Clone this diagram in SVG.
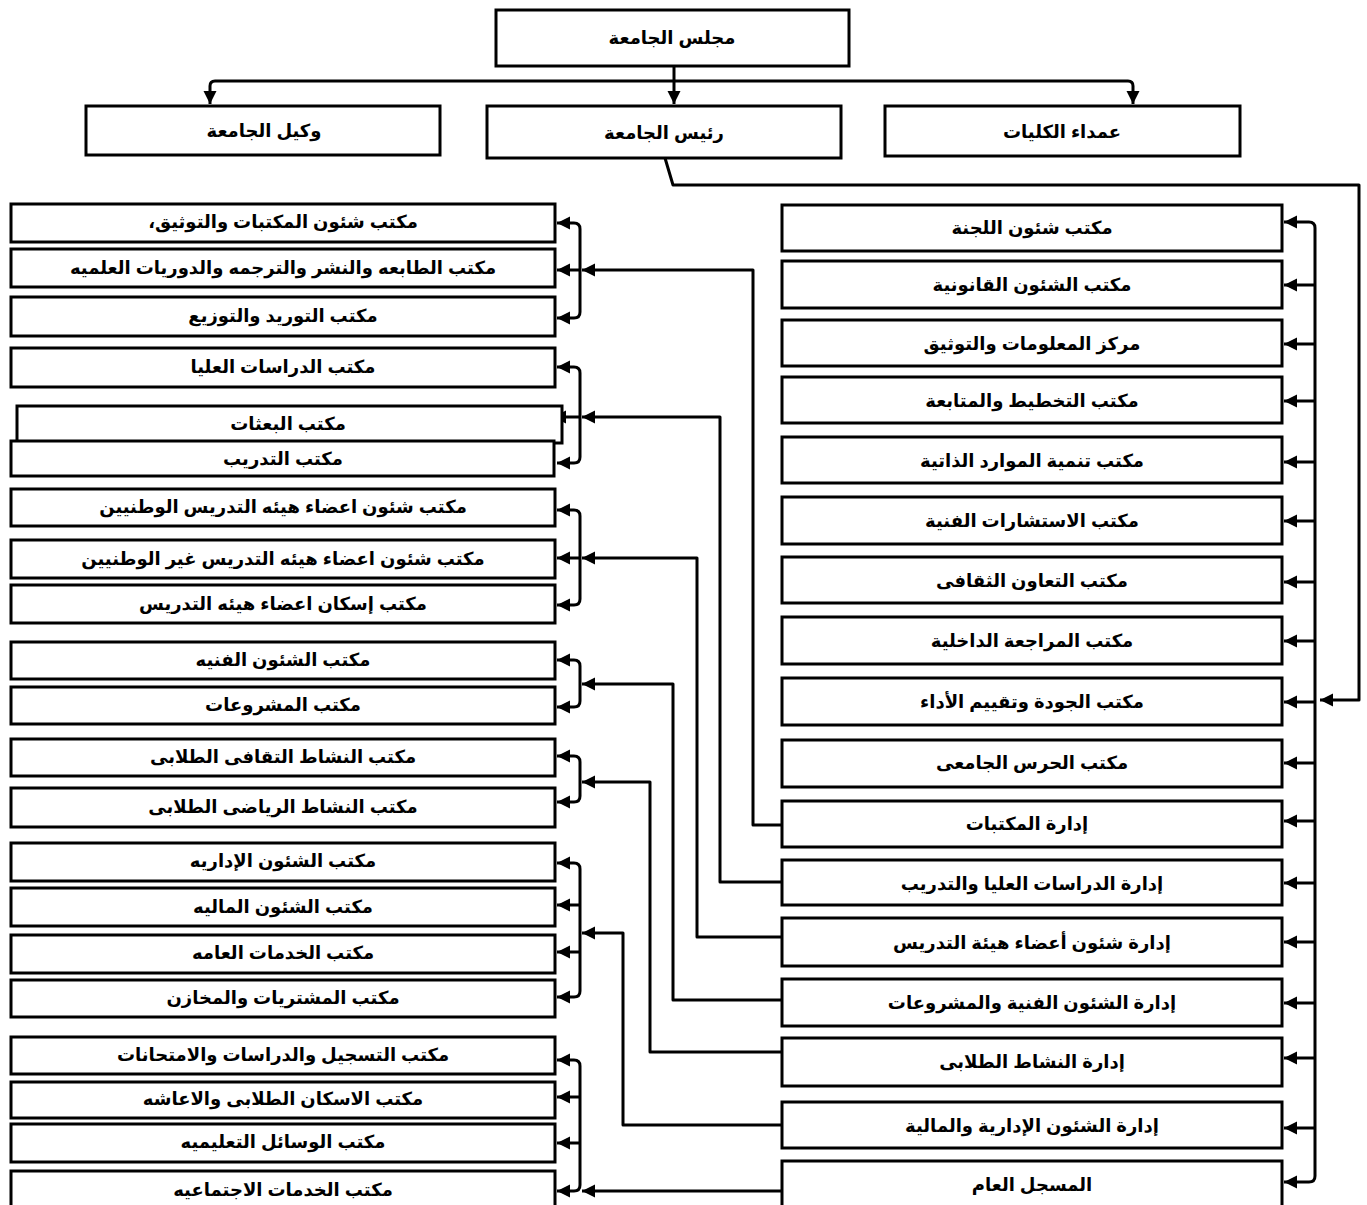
<svg xmlns="http://www.w3.org/2000/svg" width="1367" height="1205" viewBox="0 0 1367 1205">
<style>
.box{fill:#fff;stroke:#000;stroke-width:3}
.t{font-family:"Liberation Sans","DejaVu Sans",sans-serif;font-weight:bold;font-size:18px;text-anchor:middle;fill:#000}
.c{fill:none;stroke:#000;stroke-width:3;stroke-linejoin:round}
</style>
<defs>
<marker id="ah" markerUnits="userSpaceOnUse" markerWidth="14" markerHeight="14" refX="13" refY="6.5" orient="auto-start-reverse"><path d="M0,0 L13,6.5 L0,13 z" fill="#000"/></marker>
</defs>
<rect width="1367" height="1205" fill="#fff"/>

<g id="connectors">
<path class="c" d="M674,66 L674,104" marker-end="url(#ah)"/>
<path class="c" d="M210,104 L210,86 Q210,81 215,81 L1128,81 Q1133,81 1133,86 L1133,104" marker-start="url(#ah)" marker-end="url(#ah)"/>
<path class="c" d="M665,158 L673,185 L1359,185 L1359,700 L1320,700" marker-end="url(#ah)"/>
<path class="c" d="M1284,222 L1309,222 Q1315,222 1315,228 L1315,1176 Q1315,1182 1309,1182 L1284,1182" marker-start="url(#ah)" marker-end="url(#ah)"/>
<path class="c" d="M1315,285 L1284,285" marker-end="url(#ah)"/>
<path class="c" d="M1315,344 L1284,344" marker-end="url(#ah)"/>
<path class="c" d="M1315,401 L1284,401" marker-end="url(#ah)"/>
<path class="c" d="M1315,462 L1284,462" marker-end="url(#ah)"/>
<path class="c" d="M1315,521 L1284,521" marker-end="url(#ah)"/>
<path class="c" d="M1315,582 L1284,582" marker-end="url(#ah)"/>
<path class="c" d="M1315,641 L1284,641" marker-end="url(#ah)"/>
<path class="c" d="M1315,702 L1284,702" marker-end="url(#ah)"/>
<path class="c" d="M1315,763 L1284,763" marker-end="url(#ah)"/>
<path class="c" d="M1315,821 L1284,821" marker-end="url(#ah)"/>
<path class="c" d="M1315,883 L1284,883" marker-end="url(#ah)"/>
<path class="c" d="M1315,942 L1284,942" marker-end="url(#ah)"/>
<path class="c" d="M1315,1003 L1284,1003" marker-end="url(#ah)"/>
<path class="c" d="M1315,1058 L1284,1058" marker-end="url(#ah)"/>
<path class="c" d="M1315,1128 L1284,1128" marker-end="url(#ah)"/>
<!-- group A -->
<path class="c" d="M557,223 L574,223 Q580,223 580,229 L580,312 Q580,318 574,318 L557,318" marker-start="url(#ah)" marker-end="url(#ah)"/>
<path class="c" d="M580,270 L557,270" marker-end="url(#ah)"/>
<path class="c" d="M782,825 L753,825 L753,270 L582,270" marker-end="url(#ah)"/>
<!-- group B -->
<path class="c" d="M557,367 L574,367 Q580,367 580,373 L580,457 Q580,463 574,463 L557,463" marker-start="url(#ah)" marker-end="url(#ah)"/>
<path class="c" d="M580,417 L553,417" marker-end="url(#ah)"/>
<path class="c" d="M782,882 L720,882 L720,417 L582,417" marker-end="url(#ah)"/>
<!-- group C -->
<path class="c" d="M557,510 L574,510 Q580,510 580,516 L580,599 Q580,605 574,605 L557,605" marker-start="url(#ah)" marker-end="url(#ah)"/>
<path class="c" d="M580,558 L557,558" marker-end="url(#ah)"/>
<path class="c" d="M782,937 L697,937 L697,558 L582,558" marker-end="url(#ah)"/>
<!-- group D -->
<path class="c" d="M557,660 L574,660 Q580,660 580,666 L580,701 Q580,707 574,707 L557,707" marker-start="url(#ah)" marker-end="url(#ah)"/>
<path class="c" d="M782,1000 L673,1000 L673,684 L582,684" marker-end="url(#ah)"/>
<!-- group E -->
<path class="c" d="M557,756 L574,756 Q580,756 580,762 L580,796 Q580,802 574,802 L557,802" marker-start="url(#ah)" marker-end="url(#ah)"/>
<path class="c" d="M782,1052 L650,1052 L650,782 L582,782" marker-end="url(#ah)"/>
<!-- group F -->
<path class="c" d="M557,863 L574,863 Q580,863 580,869 L580,991 Q580,997 574,997 L557,997" marker-start="url(#ah)" marker-end="url(#ah)"/>
<path class="c" d="M580,905 L557,905" marker-end="url(#ah)"/>
<path class="c" d="M580,952 L557,952" marker-end="url(#ah)"/>
<path class="c" d="M782,1125 L623,1125 L623,933 L582,933" marker-end="url(#ah)"/>
<!-- group G -->
<path class="c" d="M557,1060 L574,1060 Q580,1060 580,1066 L580,1185 Q580,1191 574,1191 L557,1191" marker-start="url(#ah)" marker-end="url(#ah)"/>
<path class="c" d="M580,1097 L557,1097" marker-end="url(#ah)"/>
<path class="c" d="M580,1143 L557,1143" marker-end="url(#ah)"/>
<path class="c" d="M782,1191 L582,1191" marker-end="url(#ah)"/>
</g>

<g id="n-majlis"><rect class="box" x="496" y="10" width="353" height="56"/><text class="t" x="672" y="44">مجلس الجامعة</text></g>
<g id="n-wakeel"><rect class="box" x="86" y="106" width="354" height="49"/><text class="t" x="264" y="137">وكيل الجامعة</text></g>
<g id="n-raees"><rect class="box" x="487" y="106" width="354" height="52"/><text class="t" x="664" y="139">رئيس الجامعة</text></g>
<g id="n-omada"><rect class="box" x="885" y="106" width="355" height="50"/><text class="t" x="1062" y="138">عمداء الكليات</text></g>

<g id="r1"><rect class="box" x="782" y="205" width="500" height="46"/><text class="t" x="1032" y="234">مكتب شئون اللجنة</text></g>
<g id="r2"><rect class="box" x="782" y="261" width="500" height="47"/><text class="t" x="1032" y="291">مكتب الشئون القانونية</text></g>
<g id="r3"><rect class="box" x="782" y="320" width="500" height="46"/><text class="t" x="1032" y="350">مركز المعلومات والتوثيق</text></g>
<g id="r4"><rect class="box" x="782" y="377" width="500" height="46"/><text class="t" x="1032" y="407">مكتب التخطيط والمتابعة</text></g>
<g id="r5"><rect class="box" x="782" y="437" width="500" height="46"/><text class="t" x="1032" y="467">مكتب تنمية الموارد الذاتية</text></g>
<g id="r6"><rect class="box" x="782" y="497" width="500" height="47"/><text class="t" x="1032" y="527">مكتب الاستشارات الفنية</text></g>
<g id="r7"><rect class="box" x="782" y="557" width="500" height="46"/><text class="t" x="1032" y="587">مكتب التعاون الثقافى</text></g>
<g id="r8"><rect class="box" x="782" y="617" width="500" height="47"/><text class="t" x="1032" y="647">مكتب المراجعة الداخلية</text></g>
<g id="r9"><rect class="box" x="782" y="678" width="500" height="47"/><text class="t" x="1032" y="708">مكتب الجودة وتقييم الأداء</text></g>
<g id="r10"><rect class="box" x="782" y="740" width="500" height="47"/><text class="t" x="1032" y="769">مكتب الحرس الجامعى</text></g>
<g id="r11"><rect class="box" x="782" y="801" width="500" height="46"/><text class="t" x="1027" y="830">إدارة المكتبات</text></g>
<g id="r12"><rect class="box" x="782" y="860" width="500" height="45"/><text class="t" x="1032" y="890">إدارة الدراسات العليا والتدريب</text></g>
<g id="r13"><rect class="box" x="782" y="918" width="500" height="48"/><text class="t" x="1032" y="949">إدارة شئون أعضاء هيئة التدريس</text></g>
<g id="r14"><rect class="box" x="782" y="979" width="500" height="47"/><text class="t" x="1032" y="1009">إدارة الشئون الفنية والمشروعات</text></g>
<g id="r15"><rect class="box" x="782" y="1038" width="500" height="48"/><text class="t" x="1032" y="1068">إدارة النشاط الطلابى</text></g>
<g id="r16"><rect class="box" x="782" y="1102" width="500" height="46"/><text class="t" x="1032" y="1132">إدارة الشئون الإدارية والمالية</text></g>
<g id="r17"><rect class="box" x="782" y="1161" width="500" height="48"/><text class="t" x="1032" y="1191">المسجل العام</text></g>

<g id="l1"><rect class="box" x="11" y="204" width="544" height="38"/><text class="t" x="283" y="228" direction="rtl">مكتب شئون المكتبات والتوثيق،</text></g>
<g id="l2"><rect class="box" x="11" y="249" width="544" height="38"/><text class="t" x="283" y="274">مكتب الطابعه والنشر والترجمه والدوريات العلميه</text></g>
<g id="l3"><rect class="box" x="11" y="297" width="544" height="39"/><text class="t" x="283" y="322">مكتب التوريد والتوزيع</text></g>
<g id="l4"><rect class="box" x="11" y="348" width="544" height="39"/><text class="t" x="283" y="373">مكتب الدراسات العليا</text></g>
<g id="l5"><rect class="box" x="17" y="406" width="545" height="37"/><text class="t" x="288" y="430">مكتب البعثات</text></g>
<g id="l6"><rect class="box" x="11" y="441" width="543" height="35"/><text class="t" x="283" y="465">مكتب التدريب</text></g>
<g id="l7"><rect class="box" x="11" y="489" width="544" height="37"/><text class="t" x="283" y="513">مكتب شئون اعضاء هيئه التدريس الوطنيين</text></g>
<g id="l8"><rect class="box" x="11" y="540" width="544" height="38"/><text class="t" x="283" y="565">مكتب شئون اعضاء هيئه التدريس غير الوطنيين</text></g>
<g id="l9"><rect class="box" x="11" y="585" width="544" height="38"/><text class="t" x="283" y="610">مكتب إسكان اعضاء هيئه التدريس</text></g>
<g id="l10"><rect class="box" x="11" y="642" width="544" height="37"/><text class="t" x="283" y="666">مكتب الشئون الفنيه</text></g>
<g id="l11"><rect class="box" x="11" y="687" width="544" height="37"/><text class="t" x="283" y="711">مكتب المشروعات</text></g>
<g id="l12"><rect class="box" x="11" y="739" width="544" height="37"/><text class="t" x="283" y="763">مكتب النشاط التقافى الطلابى</text></g>
<g id="l13"><rect class="box" x="11" y="788" width="544" height="39"/><text class="t" x="283" y="813">مكتب النشاط الرياضى الطلابى</text></g>
<g id="l14"><rect class="box" x="11" y="843" width="544" height="38"/><text class="t" x="283" y="867">مكتب الشئون الإداريه</text></g>
<g id="l15"><rect class="box" x="11" y="888" width="544" height="38"/><text class="t" x="283" y="913">مكتب الشئون الماليه</text></g>
<g id="l16"><rect class="box" x="11" y="935" width="544" height="38"/><text class="t" x="283" y="959">مكتب الخدمات العامه</text></g>
<g id="l17"><rect class="box" x="11" y="980" width="544" height="37"/><text class="t" x="283" y="1004">مكتب المشتريات والمخازن</text></g>
<g id="l18"><rect class="box" x="11" y="1037" width="544" height="37"/><text class="t" x="283" y="1061">مكتب التسجيل والدراسات والامتحانات</text></g>
<g id="l19"><rect class="box" x="11" y="1082" width="544" height="36"/><text class="t" x="283" y="1105">مكتب الاسكان الطلابى والاعاشه</text></g>
<g id="l20"><rect class="box" x="11" y="1124" width="544" height="38"/><text class="t" x="283" y="1148">مكتب الوسائل التعليميه</text></g>
<g id="l21"><rect class="box" x="11" y="1171" width="544" height="39"/><text class="t" x="283" y="1196">مكتب الخدمات الاجتماعيه</text></g>
</svg>
